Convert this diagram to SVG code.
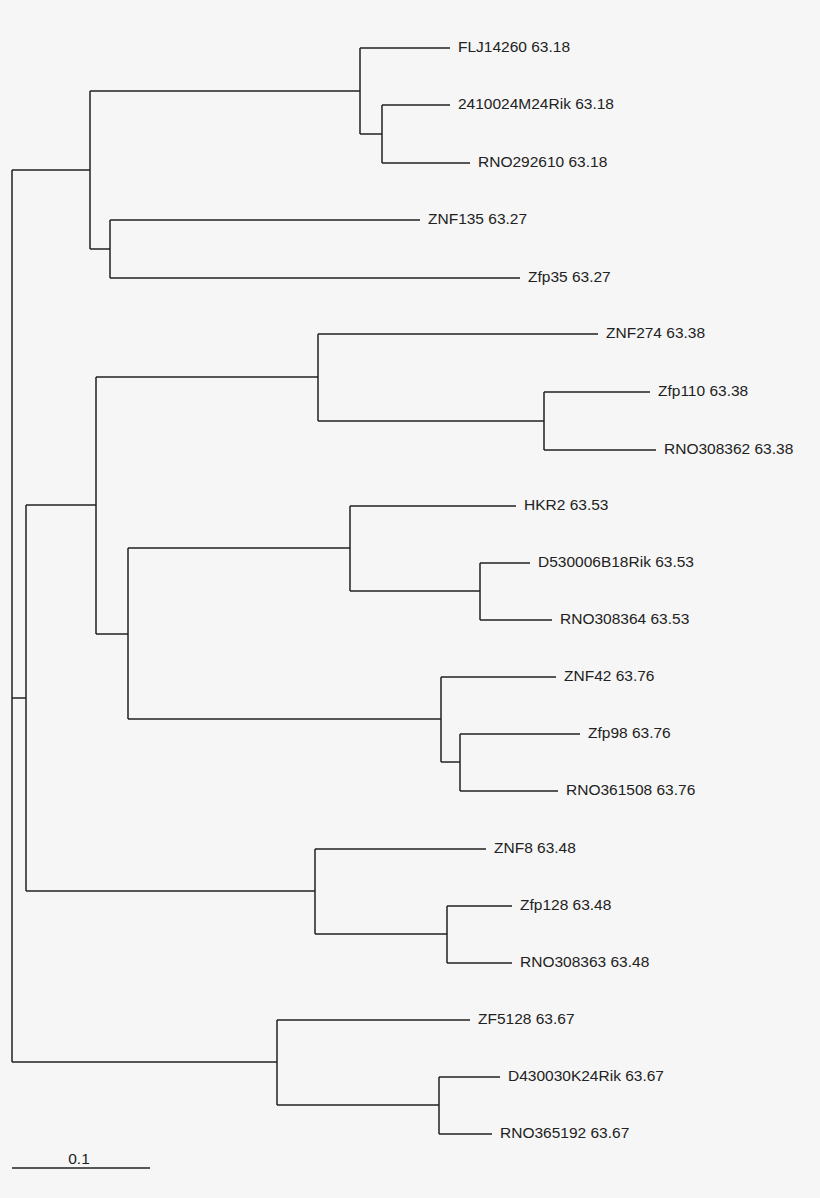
<svg xmlns="http://www.w3.org/2000/svg" width="820" height="1198" viewBox="0 0 820 1198">
<style>
.e{stroke:#222;stroke-width:1.5;fill:none}
text{font-family:"Liberation Sans",Arial,sans-serif;font-size:15.5px;fill:#222;dominant-baseline:middle}
</style>
<rect width="820" height="1198" fill="#f6f6f6"/>
<g id="connectors" class="e">
<path d="M12 170V1062M12 170H90M12 698H26M12 1062H277"/>
<path d="M90 91V249M90 91H360M90 249H110"/>
<path d="M360 48V134M360 48H450M360 134H382M382 105V163M382 105H450M382 163H470"/>
<path d="M110 220V278M110 220H420M110 278H520"/>
<path d="M26 505V891M26 505H96M26 891H315"/>
<path d="M96 377V634M96 377H318M96 634H128"/>
<path d="M318 334V421M318 334H598M318 421H544M544 392V450M544 392H650M544 450H656"/>
<path d="M128 548V719M128 548H350M128 719H441"/>
<path d="M350 506V591M350 506H516M350 591H480M480 563V620M480 563H530M480 620H552"/>
<path d="M441 677V762M441 677H556M441 762H460M460 734V791M460 734H580M460 791H558"/>
<path d="M315 849V934M315 849H486M315 934H447M447 906V963M447 906H512M447 963H512"/>
<path d="M277 1020V1105M277 1020H470M277 1105H439M439 1077V1134M439 1077H500M439 1134H492"/>
<path d="M12 1168H150"/>
</g>
<g id="labels">
<text id="n1" x="458" y="48">FLJ14260 63.18</text>
<text id="n2" x="458" y="105">2410024M24Rik 63.18</text>
<text id="n3" x="478" y="163">RNO292610 63.18</text>
<text id="n4" x="428" y="220">ZNF135 63.27</text>
<text id="n5" x="528" y="278">Zfp35 63.27</text>
<text id="n6" x="606" y="334">ZNF274 63.38</text>
<text id="n7" x="658" y="392">Zfp110 63.38</text>
<text id="n8" x="664" y="450">RNO308362 63.38</text>
<text id="n9" x="524" y="506">HKR2 63.53</text>
<text id="n10" x="538" y="563">D530006B18Rik 63.53</text>
<text id="n11" x="560" y="620">RNO308364 63.53</text>
<text id="n12" x="564" y="677">ZNF42 63.76</text>
<text id="n13" x="588" y="734">Zfp98 63.76</text>
<text id="n14" x="566" y="791">RNO361508 63.76</text>
<text id="n15" x="494" y="849">ZNF8 63.48</text>
<text id="n16" x="520" y="906">Zfp128 63.48</text>
<text id="n17" x="520" y="963">RNO308363 63.48</text>
<text id="n18" x="478" y="1020">ZF5128 63.67</text>
<text id="n19" x="508" y="1077">D430030K24Rik 63.67</text>
<text id="n20" x="500" y="1134">RNO365192 63.67</text>
<text id="scale" x="79" y="1160" text-anchor="middle">0.1</text>
</g>
</svg>
